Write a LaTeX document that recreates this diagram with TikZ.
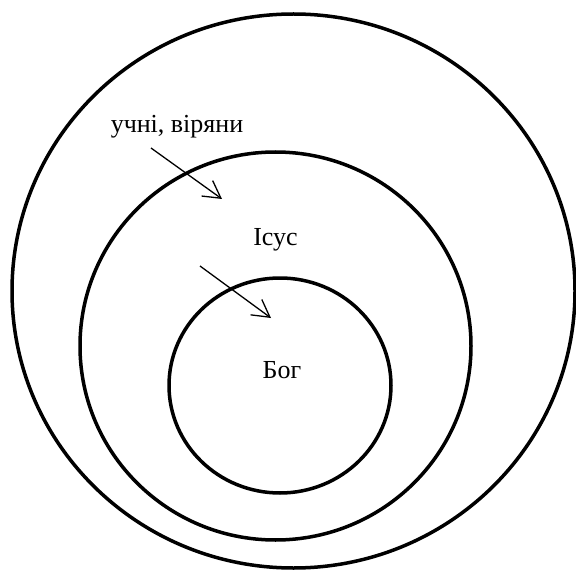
\documentclass[tikz,border=0pt]{standalone}
\usepackage{fontspec}
\setmainfont{Liberation Serif}
\usetikzlibrary{arrows.meta}
\tikzset{
  ring/.style={draw=black, line width=3.5pt},
  lbl/.style={inner sep=0pt, anchor=base, font=\fontsize{26}{30}\selectfont},
  pointer/.style={draw=black, line width=1.3pt, -{Straight Barb[length=17pt, width=19pt, line width=1.3pt]}}
}
\begin{document}
\begin{tikzpicture}[x=1pt, y=-1pt]
\useasboundingbox (0,0) rectangle (576,575);
\draw[ring] (293.5,291) ellipse [x radius=281.5, y radius=277];
\draw[ring] (275.5,346) ellipse [x radius=195.5, y radius=194];
\draw[ring] (280,385.5) ellipse [x radius=111, y radius=107.5];
\node[lbl] (followers) at (177,133) {учні, віряни};
\node[lbl] (jesus) at (275.5,245) {Ісус};
\node[lbl] (god) at (282,378) {Бог};
\coordinate (a1s) at (151,148);
\coordinate (a1e) at (222,199);
\coordinate (a2s) at (200,266);
\coordinate (a2e) at (271,318);
\draw[pointer] (a1s) -- (a1e);
\draw[pointer] (a2s) -- (a2e);
\end{tikzpicture}
\end{document}
